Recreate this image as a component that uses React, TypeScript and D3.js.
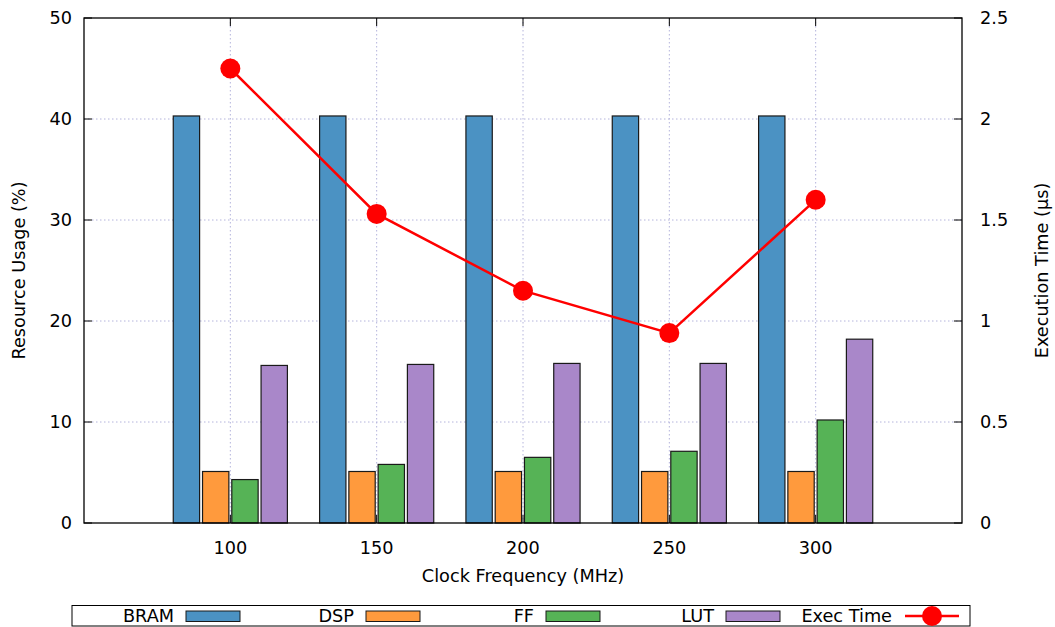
import React from "react";
import * as d3 from "d3";

const frequencies = [100, 150, 200, 250, 300];
const bram = [40.3, 40.3, 40.3, 40.3, 40.3];
const dsp = [5.1, 5.1, 5.1, 5.1, 5.1];
const ff = [4.3, 5.8, 6.5, 7.1, 10.2];
const lut = [15.6, 15.7, 15.8, 15.8, 18.2];
const execTime = [2.25, 1.53, 1.15, 0.94, 1.6];

const leftTicks = [0, 10, 20, 30, 40, 50];
const rightTicks = [0, 0.5, 1, 1.5, 2, 2.5];
const rightTickLabels = ["0", "0.5", "1", "1.5", "2", "2.5"];

const seriesNames = ["BRAM", "DSP", "FF", "LUT"];
const seriesColors = ["#4b92c3", "#ff9a3d", "#56b356", "#a987c9"];
const seriesData = [bram, dsp, ff, lut];

const W = 1055;
const H = 627;
const M = { left: 84, right: 962, top: 18, bottom: 523 };
const FONT = "'DejaVu Sans', sans-serif";
const FS = 17.7;

export default function App() {
  const x = d3.scaleLinear().domain([50, 350]).range([M.left, M.right]);
  const yL = d3.scaleLinear().domain([0, 50]).range([M.bottom, M.top]);
  const yR = d3.scaleLinear().domain([0, 2.5]).range([M.bottom, M.top]);
  const step = x(150) - x(100);
  const slot = step / 5;
  const barW = slot * 0.9;
  const line = d3
    .line<number>()
    .x((_, i) => x(frequencies[i]))
    .y((d) => yR(d));
  const tickLen = 8;
  const gridColor = "#b4b4dc";

  return (
    <svg
      width={W}
      height={H}
      style={{ position: "absolute", left: 0, top: 0, background: "#fff" }}
      fontFamily={FONT}
    >
      {/* grid */}
      {leftTicks.slice(1, -1).map((t) => (
        <line
          key={"gy" + t}
          x1={M.left}
          x2={M.right}
          y1={yL(t)}
          y2={yL(t)}
          stroke={gridColor}
          strokeWidth={1}
          strokeDasharray="1.5,2.5"
        />
      ))}
      {frequencies.map((f) => (
        <line
          key={"gx" + f}
          x1={x(f)}
          x2={x(f)}
          y1={M.top}
          y2={M.bottom}
          stroke={gridColor}
          strokeWidth={1}
          strokeDasharray="1.5,2.5"
        />
      ))}
      {/* ticks */}
      {leftTicks.map((t) => (
        <line key={"lt" + t} x1={M.left} x2={M.left + tickLen} y1={yL(t)} y2={yL(t)} stroke="#000" />
      ))}
      {rightTicks.map((t) => (
        <line key={"rt" + t} x1={M.right} x2={M.right - tickLen} y1={yR(t)} y2={yR(t)} stroke="#000" />
      ))}
      {frequencies.map((f) => (
        <g key={"xt" + f}>
          <line x1={x(f)} x2={x(f)} y1={M.bottom} y2={M.bottom - tickLen} stroke="#000" />
          <line x1={x(f)} x2={x(f)} y1={M.top} y2={M.top + tickLen} stroke="#000" />
        </g>
      ))}
      {/* bars */}
      {frequencies.map((f, i) => (
        <g key={"bg" + f}>
          {seriesData.map((s, k) => {
            const x0 = x(f) - 2 * slot + k * slot + (slot - barW) / 2;
            return (
              <rect
                key={k}
                x={x0}
                y={yL(s[i])}
                width={barW}
                height={yL(0) - yL(s[i])}
                fill={seriesColors[k]}
                stroke="#1a1a1a"
                strokeWidth={1.2}
              />
            );
          })}
        </g>
      ))}
      {/* line */}
      <path d={line(execTime) || ""} fill="none" stroke="#ff0000" strokeWidth={2.5} />
      {execTime.map((v, i) => (
        <circle key={"c" + i} cx={x(frequencies[i])} cy={yR(v)} r={10} fill="#ff0000" />
      ))}
      {/* border */}
      <rect
        x={M.left}
        y={M.top}
        width={M.right - M.left}
        height={M.bottom - M.top}
        fill="none"
        stroke="#000"
        strokeWidth={1.3}
      />
      {/* tick labels */}
      {leftTicks.map((t) => (
        <text key={"ll" + t} x={72} y={yL(t)} dy="0.36em" textAnchor="end" fontSize={FS} fill="#000">
          {t}
        </text>
      ))}
      {rightTicks.map((t, i) => (
        <text key={"rl" + t} x={980} y={yR(t)} dy="0.36em" textAnchor="start" fontSize={FS} fill="#000">
          {rightTickLabels[i]}
        </text>
      ))}
      {frequencies.map((f) => (
        <text key={"xl" + f} x={x(f)} y={548} dy="0.36em" textAnchor="middle" fontSize={FS} fill="#000">
          {f}
        </text>
      ))}
      {/* axis labels */}
      <text x={(M.left + M.right) / 2} y={576} dy="0.36em" textAnchor="middle" fontSize={FS}>
        Clock Frequency (MHz)
      </text>
      <text
        transform={`translate(19,${(M.top + M.bottom) / 2}) rotate(-90)`}
        dy="0.36em"
        textAnchor="middle"
        fontSize={FS}
      >
        Resource Usage (%)
      </text>
      <text
        transform={`translate(1042,${(M.top + M.bottom) / 2}) rotate(-90)`}
        dy="0.36em"
        textAnchor="middle"
        fontSize={FS}
      >
        Execution Time (µs)
      </text>
      {/* legend */}
      <rect x={72} y={605.5} width={898} height={20.5} fill="#fff" stroke="#000" strokeWidth={1} />
      {seriesNames.map((n, k) => {
        const sx = 186 + k * 180;
        return (
          <g key={"lg" + n}>
            <text x={sx - 12} y={616} dy="0.36em" textAnchor="end" fontSize={FS}>
              {n}
            </text>
            <rect x={sx} y={611} width={54} height={10.5} fill={seriesColors[k]} stroke="#1a1a1a" strokeWidth={1} />
          </g>
        );
      })}
      <g>
        <text x={892} y={616} dy="0.36em" textAnchor="end" fontSize={FS}>
          Exec Time
        </text>
        <line x1={905} x2={959} y1={616} y2={616} stroke="#ff0000" strokeWidth={2.5} />
        <circle cx={932} cy={616} r={10} fill="#ff0000" />
      </g>
    </svg>
  );
}
